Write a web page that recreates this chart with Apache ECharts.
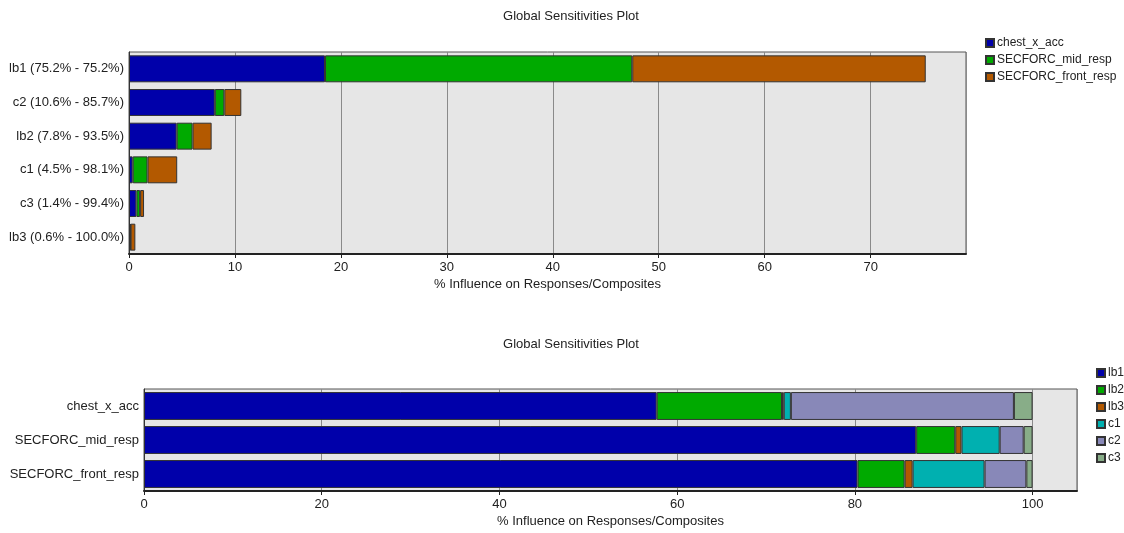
<!DOCTYPE html>
<html><head><meta charset="utf-8">
<script src="https://cdn.jsdelivr.net/npm/echarts@6/dist/echarts.min.js"></script>
<style>html,body{margin:0;padding:0;background:#fff}#c{width:1124px;height:533px}</style>
</head><body><div id="c"></div>
<script>
// Top chart: components (categories) stacked by response
const topCategories = ['lb1 (75.2% - 75.2%)','c2 (10.6% - 85.7%)','lb2 (7.8% - 93.5%)','c1 (4.5% - 98.1%)','c3 (1.4% - 99.4%)','lb3 (0.6% - 100.0%)'];
const topSeriesNames = ['chest_x_acc','SECFORC_mid_resp','SECFORC_front_resp'];
const chestXAcc = [18.5, 8.1, 4.5, 0.35, 0.7, 0.1];
const secforcMid = [29.0, 0.9, 1.5, 1.4, 0.35, 0.05];
const secforcFront = [27.7, 1.6, 1.8, 2.8, 0.37, 0.45];
const topTicks = [0,10,20,30,40,50,60,70];

// Bottom chart: responses stacked by component
const bottomCategories = ['chest_x_acc','SECFORC_mid_resp','SECFORC_front_resp'];
const bottomSeriesNames = ['lb1','lb2','lb3','c1','c2','c3'];
const lb1 = [57.7, 86.9, 80.3];
const lb2 = [14.1, 4.4, 5.3];
const lb3 = [0.2, 0.7, 0.9];
const c1 = [0.8, 4.3, 8.1];
const c2 = [25.1, 2.7, 4.7];
const c3 = [2.1, 1.0, 0.7];
const bottomTicks = [0,20,40,60,80,100];

const topColors = ['#0000aa','#00aa00','#b35900'];
const bottomColors = ['#0000aa','#00aa00','#b35900','#00b0b0','#8888b8','#88ad88'];
const FONT = 'Liberation Sans, Arial, sans-serif';
const txt = {fontFamily: FONT, fontSize: 13, color: '#222'};
const legTxt = {fontFamily: FONT, fontSize: 12, color: '#222', padding: [0,0,0,-2]};

const chart = echarts.init(document.getElementById('c'), null, {renderer: 'canvas'});
const topData = [chestXAcc, secforcMid, secforcFront];
const bottomData = [lb1, lb2, lb3, c1, c2, c3];

function xAx(gridIndex, max, interval) {
  return {
    type: 'value', gridIndex, min: 0, max, interval,
    name: '% Influence on Responses/Composites', nameLocation: 'middle', nameGap: 24,
    nameTextStyle: txt,
    axisLine: {show: true, lineStyle: {color: '#222', width: 2}},
    axisTick: {show: true, length: 4, lineStyle: {color: '#222'}},
    axisLabel: Object.assign({margin: 7, showMaxLabel: false}, txt),
    splitLine: {show: true, lineStyle: {color: '#8a8a8a', width: 1}}
  };
}
function yAx(gridIndex, cats) {
  return {
    type: 'category', gridIndex, data: cats, inverse: true,
    axisLine: {show: true, lineStyle: {color: '#333'}},
    axisTick: {show: false},
    axisLabel: Object.assign({margin: 5}, txt),
    splitLine: {show: false}
  };
}
const series = [];
topSeriesNames.forEach((n, i) => series.push({
  name: n, type: 'bar', stack: 'top', xAxisIndex: 0, yAxisIndex: 0,
  data: topData[i], barCategoryGap: '20%',
  itemStyle: {color: topColors[i], borderColor: '#333', borderWidth: 1}
}));
bottomSeriesNames.forEach((n, i) => series.push({
  name: n, type: 'bar', stack: 'bottom', xAxisIndex: 1, yAxisIndex: 1,
  data: bottomData[i], barCategoryGap: '18%',
  itemStyle: {color: bottomColors[i], borderColor: '#333', borderWidth: 1}
}));

chart.setOption({
  animation: false,
  textStyle: {fontFamily: FONT},
  title: [
    {text: 'Global Sensitivities Plot', left: 566, top: 5, textAlign: 'center', textStyle: Object.assign({fontWeight: 'normal'}, txt)},
    {text: 'Global Sensitivities Plot', left: 566, top: 333, textAlign: 'center', textStyle: Object.assign({fontWeight: 'normal'}, txt)}
  ],
  legend: [
    {data: topSeriesNames, orient: 'vertical', left: 980, top: 32, icon: 'rect', itemWidth: 8, itemHeight: 8, itemGap: 5, textStyle: legTxt},
    {data: bottomSeriesNames, orient: 'vertical', left: 1091, top: 362, icon: 'rect', itemWidth: 8, itemHeight: 8, itemGap: 5, textStyle: legTxt}
  ],
  grid: [
    {left: 129, top: 52, width: 837, height: 202, show: true, backgroundColor: '#e6e6e6', borderColor: '#555', borderWidth: 1},
    {left: 144, top: 389, width: 933, height: 102, show: true, backgroundColor: '#e6e6e6', borderColor: '#555', borderWidth: 1}
  ],
  xAxis: [xAx(0, 79, 10), xAx(1, 105, 20)],
  yAxis: [yAx(0, topCategories), yAx(1, bottomCategories)],
  series
});
</script></body></html>
